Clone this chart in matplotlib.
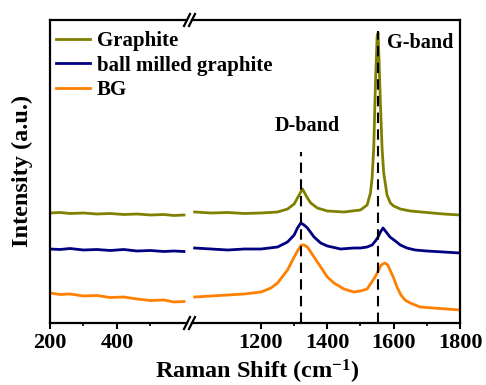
import matplotlib
matplotlib.use("Agg")
import matplotlib.pyplot as plt
from matplotlib.lines import Line2D

plt.rcParams['font.family'] = ['Liberation Serif', 'DejaVu Serif']
plt.rcParams['font.weight'] = 'bold'
plt.rcParams['mathtext.fontset'] = 'custom'
plt.rcParams['mathtext.rm'] = 'Liberation Serif:bold'
plt.rcParams['mathtext.default'] = 'rm'

# spectra (arbitrary intensity units, curves already offset)
# low-wavenumber segment
x_low = [200, 230, 260, 300, 340, 380, 420, 460, 500, 540, 570, 600]
graphite_low = [110, 110.5, 109.5, 110, 109, 109.5, 108.5, 109, 108, 108.5, 107.5, 108]
ballmilled_low = [74, 73.5, 74.5, 73, 73.5, 72.5, 73.5, 72, 72.5, 71.5, 72, 71.5]
bg_low = [30, 28.5, 29, 27, 27.5, 25.5, 26, 24, 22.5, 23, 21, 21.5]

# high-wavenumber segment
x_gr = [1000, 1050, 1100, 1150, 1200, 1250, 1280, 1300, 1310, 1320, 1325, 1330, 1340, 1350,
        1370, 1400, 1450, 1500, 1520, 1530, 1535, 1540, 1545, 1550, 1553, 1556, 1560, 1565,
        1570, 1580, 1590, 1600, 1620, 1650, 1700, 1750, 1800]
graphite = [111, 110, 110.5, 109.5, 110, 111, 114, 119, 125, 131, 134, 131, 125, 120,
            115, 112, 111, 113, 118, 130, 145, 176, 238, 286, 290, 262, 220, 175,
            150, 128, 120, 117, 114, 112, 110.5, 109, 108]

x_bm = [1000, 1050, 1100, 1150, 1200, 1250, 1280, 1300, 1310, 1320, 1330, 1340, 1360, 1380,
        1400, 1440, 1480, 1500, 1520, 1535, 1545, 1553, 1560, 1568, 1575, 1589, 1605, 1620,
        1640, 1665, 1700, 1750, 1800]
ballmilled = [75, 74, 73, 74, 74, 76, 81, 88, 95, 100, 98, 95, 86, 80,
              77, 74, 75, 75, 76, 78, 82, 86, 91, 95, 92, 86, 82, 78,
              75, 73, 72, 71, 70]

x_bg = [1000, 1050, 1100, 1150, 1200, 1230, 1250, 1280, 1300, 1310, 1322, 1330, 1340, 1360,
        1380, 1400, 1420, 1450, 1480, 1500, 1520, 1544, 1555, 1562, 1574, 1582, 1589, 1600,
        1610, 1622, 1634, 1650, 1680, 1720, 1760, 1800]
bg = [26, 27, 28, 29, 31, 35, 40, 53, 66, 72, 78, 78, 76, 66,
      56, 46, 40, 34, 31, 32, 34, 46, 53, 58, 60, 58, 53, 45,
      36, 28, 23, 20, 16, 15, 14, 13]

labels = ['Graphite', 'ball milled graphite', 'BG']
colors = ['#808000', '#000080', '#FF8000']
d_band = 1320
g_band = 1553

fig = plt.figure(figsize=(4.86, 3.85), dpi=100)
W, H = 486.0, 385.0
bot, top = 1 - 323 / H, 1 - 20 / H
ax1 = fig.add_axes([50 / W, bot, (187 - 50) / W, top - bot])
ax2 = fig.add_axes([192 / W, bot, (460 - 192) / W, top - bot])

lw = 2.0
ax1.plot(x_low, graphite_low, color=colors[0], lw=lw)
ax1.plot(x_low, ballmilled_low, color=colors[1], lw=lw)
ax1.plot(x_low, bg_low, color=colors[2], lw=lw)
ax2.plot(x_gr, graphite, color=colors[0], lw=lw)
ax2.plot(x_bm, ballmilled, color=colors[1], lw=lw)
ax2.plot(x_bg, bg, color=colors[2], lw=lw)

# band markers
ax2.plot([d_band, d_band], [0, 171], color='black', lw=1.5, ls=(0, (5, 3)))
ax2.plot([g_band, g_band], [0, 292], color='black', lw=1.5, ls=(0, (5, 3)))
ax2.text(d_band + 18, 197, 'D-band', fontsize=14.5, fontweight='bold', ha='center', va='center')
ax2.text(g_band + 127, 280, 'G-band', fontsize=14.5, fontweight='bold', ha='center', va='center')

ax1.set_xlim(200, 609)
ax2.set_xlim(992, 1800)
for ax in (ax1, ax2):
    ax.set_ylim(0, 303)
    ax.set_yticks([])
    for s in ax.spines.values():
        s.set_linewidth(1.6)
    ax.tick_params(axis='x', which='major', direction='out', length=4, width=1.5,
                   labelsize=16, pad=3)
    ax.tick_params(axis='x', which='minor', direction='out', length=2.5, width=1.2)
ax1.spines['right'].set_visible(False)
ax2.spines['left'].set_visible(False)
ax1.set_xticks([200, 400])
ax1.set_xticks([300, 500], minor=True)
ax2.set_xticks([1200, 1400, 1600, 1800])
ax2.set_xticks([1300, 1500, 1700], minor=True)
for lab in ax1.get_xticklabels() + ax2.get_xticklabels():
    lab.set_fontweight('bold')

# break marks
for yb in (20, 323):
    for xb in (187, 192):
        fig.add_artist(Line2D([(xb - 3) / W, (xb + 3) / W], [1 - (yb + 6) / H, 1 - (yb - 6) / H],
                              transform=fig.transFigure, color='black', lw=1.6))

fig.text(257 / W, 1 - 372 / H, r'Raman Shift (cm$^{-1}$)', fontsize=17.5, fontweight='bold',
         ha='center', va='center')
fig.text(22 / W, 1 - 171 / H, 'Intensity (a.u.)', fontsize=17.5, fontweight='bold',
         ha='center', va='center', rotation=90)

handles = [Line2D([], [], color=c, lw=lw) for c in colors]
fig.legend(handles, labels, loc='upper left', bbox_to_anchor=(56 / W, 1 - 31 / H),
           frameon=False, handlelength=1.65, handletextpad=0.3,
           labelspacing=0.22, borderpad=0, borderaxespad=0, prop={'weight': 'bold', 'size': 15})

fig.savefig('out.png', dpi=100)
